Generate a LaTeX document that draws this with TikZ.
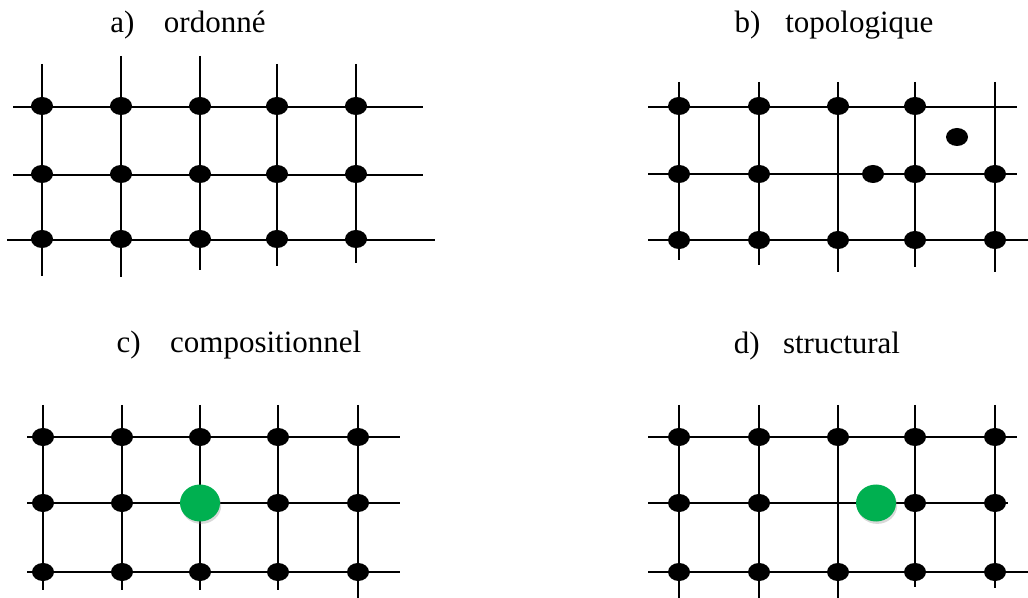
\documentclass[tikz,border=0pt]{standalone}
\usepackage{fontspec}
\setmainfont{Liberation Serif}
\usetikzlibrary{shapes.geometric,shadows}
\definecolor{vert}{RGB}{0,176,80}

\begin{document}
\begin{tikzpicture}[
  x=0.5pt, y=-0.5pt,
  gline/.style={line width=1.3pt},
  pt/.style={ellipse, fill=black, minimum width=11pt, minimum height=9pt,
             inner sep=0pt},
  gpt/.style={ellipse, fill=vert, minimum width=20pt, minimum height=18.5pt,
              inner sep=0pt,
              drop shadow={opacity=0.3, shadow xshift=0.6pt, shadow yshift=-1.2pt}},
  ttl/.style={font=\fontsize{15.5}{18}\selectfont, anchor=base},
]
  \useasboundingbox (0,0) rectangle (1028,598);

  % --- a) ordonne ---
  \draw[gline] (13,107) -- (423,107);
  \draw[gline] (13,175) -- (423,175);
  \draw[gline] (7,240) -- (435,240);
  \foreach \x/\t/\b in {42/64/276, 121/56/277, 200/56/270, 277/64/266, 356/64/263}
    \draw[gline] (\x,\t) -- (\x,\b);
  \foreach \x [count=\i] in {42,121,200,277,356}
    \foreach \y [count=\j] in {106,174,239}
      \node[pt] (a\j\i) at (\x,\y) {};
  \node[ttl] (ta) at (188,33) {a)\hspace{0.95em}ordonné};

  % --- b) topologique ---
  \draw[gline] (648,107) -- (1017,107);
  \draw[gline] (648,174) -- (1017,174);
  \draw[gline] (648,240) -- (1028,240);
  \foreach \x/\b in {679/260, 759/265, 838/272, 915/267, 995/272}
    \draw[gline] (\x,82) -- (\x,\b);
  \foreach \x [count=\i] in {679,759,838,915}
    \node[pt] (b1\i) at (\x,106) {};
  \foreach \x [count=\i] in {679,759,873,915,995}
    \node[pt] (b2\i) at (\x,174) {};
  \foreach \x [count=\i] in {679,759,838,915,995}
    \node[pt] (b3\i) at (\x,240) {};
  \node[pt] (bx) at (957,137) {};
  \node[ttl] (tb) at (834,33) {b)\hspace{0.8em}topologique};

  % --- c) compositionnel ---
  \draw[gline] (27,437) -- (400,437);
  \draw[gline] (27,503) -- (400,503);
  \draw[gline] (27,572) -- (400,572);
  \foreach \x/\b in {43/590, 122/590, 200/590, 278/590, 358/598}
    \draw[gline] (\x,405) -- (\x,\b);
  \foreach \x [count=\i] in {43,122,200,278,358}{
    \node[pt] (c1\i) at (\x,437) {};
    \node[pt] (c3\i) at (\x,572) {};
  }
  \foreach \x [count=\i] in {43,122,278,358}
    \node[pt] (c2\i) at (\x,503) {};
  \node[gpt] (cg) at (200,503) {};
  \node[ttl] (tc) at (239,353) {c)\hspace{0.95em}compositionnel};

  % --- d) structural ---
  \draw[gline] (648,437) -- (1017,437);
  \draw[gline] (648,503) -- (1008,503);
  \draw[gline] (648,572) -- (1028,572);
  \foreach \x/\b in {679/598, 759/598, 838/598, 915/587, 995/588}
    \draw[gline] (\x,405) -- (\x,\b);
  \foreach \x [count=\i] in {679,759,838,915,995}{
    \node[pt] (d1\i) at (\x,437) {};
    \node[pt] (d3\i) at (\x,572) {};
  }
  \foreach \x [count=\i] in {679,759,915,995}
    \node[pt] (d2\i) at (\x,503) {};
  \node[gpt] (dg) at (876,503) {};
  \node[ttl] (td) at (817,354) {d)\hspace{0.75em}structural};
\end{tikzpicture}
\end{document}
